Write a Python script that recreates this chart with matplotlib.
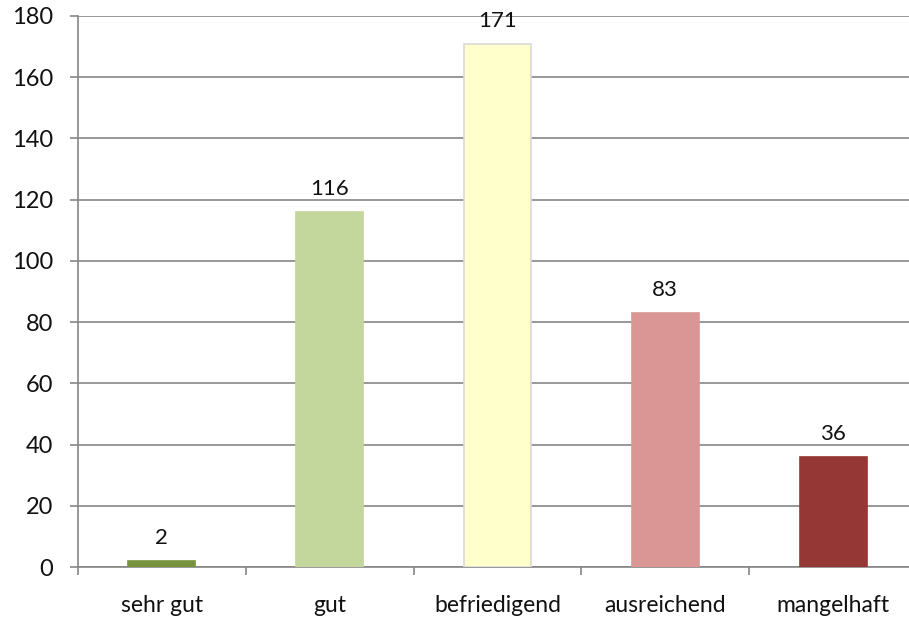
import matplotlib.pyplot as plt
import numpy as np

# Notenverteilung
grades = ['sehr gut', 'gut', 'befriedigend', 'ausreichend', 'mangelhaft']
counts = [2, 116, 171, 83, 36]
colors = ['#77933C', '#C3D69B', '#FFFFCC', '#D99694', '#953735']
edges = ['#77933C', '#C3D69B', '#D9D9D9', '#D99694', '#953735']
yticks = [0, 20, 40, 60, 80, 100, 120, 140, 160, 180]

plt.rcParams['font.family'] = ['Lato', 'DejaVu Sans']
txt = '#111111'

fig = plt.figure(figsize=(9.09, 6.27), dpi=100)
# axes runs a bit past the right edge, like the original crop
ax = fig.add_axes([78/909, (627-567)/627, (917-78)/909, (567-16)/627])

x = np.arange(len(grades))
bars = ax.bar(x, counts, width=0.4, color=colors, edgecolor=edges, linewidth=1.2, zorder=3)

for xi, c in zip(x, counts):
    ax.annotate(str(c), (xi, c), xytext=(0, 9), textcoords='offset points',
                ha='center', va='bottom', fontsize=16, color=txt, zorder=4)

ax.set_xlim(-0.5, len(grades) - 0.5)
ax.set_ylim(0, 180)
ax.set_yticks(yticks)
ax.grid(axis='y', color='#868686', linewidth=1.2, zorder=0)

ax.set_xticks(x)
ax.set_xticklabels(grades)
ax.set_xticks(np.arange(-0.5, len(grades) + 0.5, 1), minor=True)
ax.tick_params(axis='x', which='major', length=0, pad=20, labelsize=16.5, labelcolor=txt)
ax.tick_params(axis='x', which='minor', length=6, width=1.2, color='#868686', direction='out')
ax.tick_params(axis='y', length=6, width=1.2, color='#868686', pad=12, labelsize=17, labelcolor=txt)

for s in ['top', 'right']:
    ax.spines[s].set_visible(False)
ax.spines['left'].set_color('#868686')
ax.spines['left'].set_linewidth(1.2)
ax.spines['bottom'].set_color('#868686')
ax.spines['bottom'].set_linewidth(1.2)

fig.savefig('out.png', dpi=100)
